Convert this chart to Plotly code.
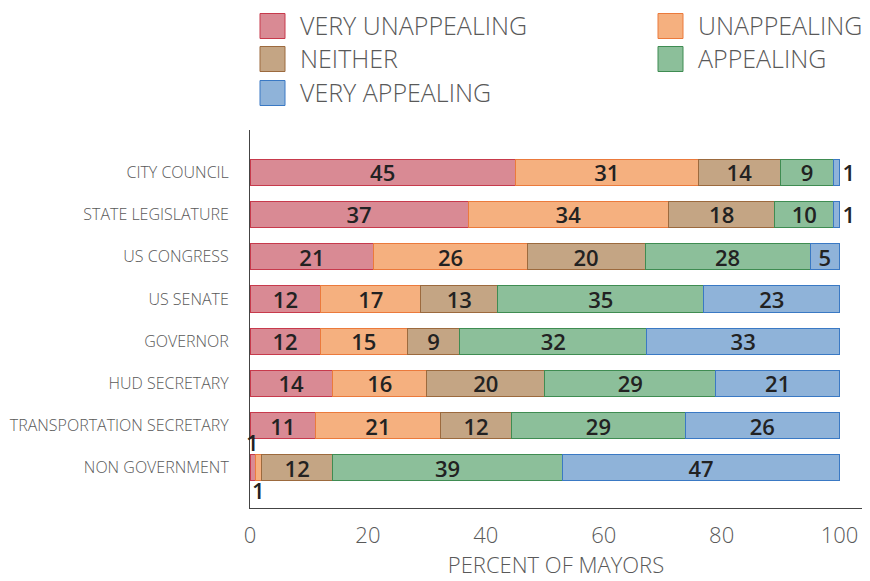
import plotly.graph_objects as go

categories = ["CITY COUNCIL", "STATE LEGISLATURE", "US CONGRESS", "US SENATE",
              "GOVERNOR", "HUD SECRETARY", "TRANSPORTATION SECRETARY", "NON GOVERNMENT"]
series_names = ["VERY UNAPPEALING", "UNAPPEALING", "NEITHER", "APPEALING", "VERY APPEALING"]
very_unappealing = [45, 37, 21, 12, 11.9, 14, 11.1, 1]
unappealing = [31, 34, 26, 17, 14.8, 16, 21.2, 1]
neither = [14, 18, 20, 13, 8.9, 20, 12.1, 12]
appealing = [9, 10, 28, 35, 31.7, 29, 29.4, 39]
very_appealing = [1, 1, 5, 23, 32.7, 21, 26.2, 47]
x_ticks = [0, 20, 40, 60, 80, 100]

series_values = [very_unappealing, unappealing, neither, appealing, very_appealing]
fills = ["#d98a94", "#f5b07f", "#c4a584", "#8cbf9a", "#8fb3d9"]
borders = ["#c73a4c", "#eb7a3c", "#9c6a3e", "#3f8c52", "#3a79c4"]

FONT = "Open Sans"
OFF = 8  # page body margin
W, H = 862, 573
ML, MR, MT, MB = 242, 8, 122, 73
PW, PH = W - ML - MR, H - MT - MB
LBL = dict(family=FONT, size=22, color="#222222", weight=600)

fig = go.Figure()
annotations = []
for s, (name, vals) in enumerate(zip(series_names, series_values)):
    texts, positions = [], []
    for i, v in enumerate(vals):
        if v <= 2 and s < len(series_names) - 1:
            texts.append("")
            positions.append("inside")
            base = sum(series_values[k][i] for k in range(s))
            annotations.append(dict(
                x=base + v / 2, y=categories[i], xref="x", yref="y",
                text=f"{v:.0f}", showarrow=False,
                yshift=26 if s == 0 else -22, font=LBL))
        elif v <= 2:
            texts.append(f"{v:.0f}")
            positions.append("outside")
        else:
            texts.append(f"{v:.0f}")
            positions.append("inside")
    fig.add_trace(go.Bar(
        y=categories, x=vals, orientation="h", name=name,
        marker=dict(color=fills[s], line=dict(color=borders[s], width=1)),
        text=texts, textposition=positions, insidetextanchor="middle",
        textangle=0, cliponaxis=False,
        textfont=LBL, outsidetextfont=LBL,
        showlegend=False, hoverinfo="x+y+name"))

# manual legend (large swatches), positions given in page pixels
def px_x(px):
    return (px - OFF - ML) / PW

def px_y(py):
    return (H - MB - (py - OFF)) / PH

shapes = []
col_x = [260, 658]
row_y = [26, 59, 93]
sw = 25
for i, name in enumerate(series_names):
    c, r = i % 2, i // 2
    x0 = col_x[c]
    yc = row_y[r]
    shapes.append(dict(type="rect", xref="paper", yref="paper",
                       x0=px_x(x0), x1=px_x(x0 + sw),
                       y0=px_y(yc + sw / 2), y1=px_y(yc - sw / 2),
                       fillcolor=fills[i], line=dict(color=borders[i], width=1)))
    annotations.append(dict(xref="paper", yref="paper", x=px_x(x0 + sw + 13), y=px_y(yc - 1),
                            xanchor="left", yanchor="middle", text=name, showarrow=False,
                            font=dict(family=FONT, size=25, color="#595959", weight=300)))

fig.update_layout(
    width=W, height=H,
    margin=dict(l=ML, r=MR, t=MT, b=MB),
    barmode="stack", bargap=0.38,
    plot_bgcolor="white", paper_bgcolor="white",
    uniformtext=dict(mode="show", minsize=22),
    shapes=shapes, annotations=annotations,
    xaxis=dict(range=[0, 103.8], tickvals=x_ticks, showgrid=False, zeroline=False,
               showline=True, linecolor="#444444", linewidth=1, ticks="",
               ticklabelstandoff=8, automargin=False,
               tickfont=dict(family=FONT, size=22, color="#595959", weight=300),
               title=dict(text="PERCENT OF MAYORS", standoff=6,
                          font=dict(family=FONT, size=22, color="#595959", weight=300))),
    yaxis=dict(categoryorder="array", categoryarray=categories,
               range=[7.95, -1.0], showgrid=False, zeroline=False,
               showline=True, linecolor="#444444", linewidth=1, ticks="",
               ticklabelstandoff=17, automargin=False,
               tickfont=dict(family=FONT, size=16, color="#595959", weight=300)),
)

fig.write_html("out.html")
